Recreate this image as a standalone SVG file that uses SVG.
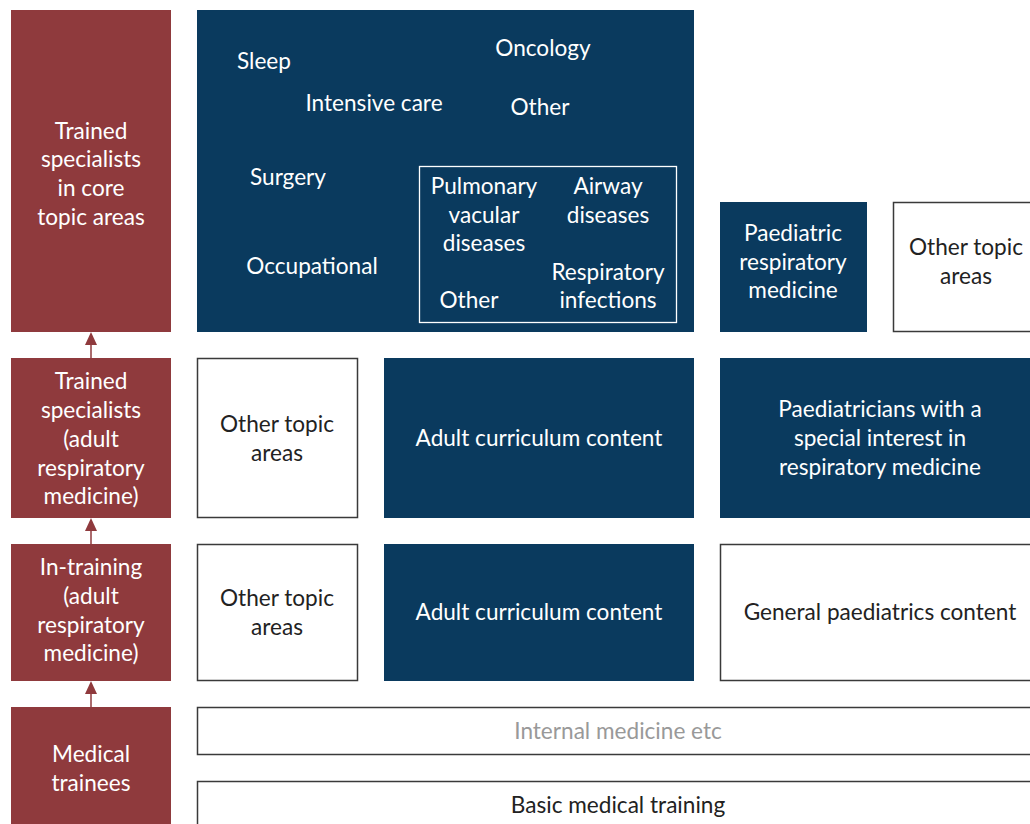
<svg xmlns="http://www.w3.org/2000/svg" width="1030" height="824" viewBox="0 0 1030 824">
<style>
.red{fill:#8f3a3d}
.blue{fill:#0a3a5e}
.wbox{fill:#fff;stroke:#3a3a3a;stroke-width:1.5}
text{font-family:Lato,"Open Sans","Liberation Sans",sans-serif;font-size:22.6px;text-anchor:middle;dominant-baseline:central}
.tw{fill:#fff}
.td{fill:#222}
.tg{fill:#999}
.arr{stroke:#8f3a3d;stroke-width:1.5}
.head{fill:#8f3a3d}
</style>
<rect width="1030" height="824" fill="#fff"/>

<g id="connectors">
<line class="arr" x1="91" y1="358" x2="91" y2="340"/>
<polygon class="head" points="91,332 85,345 97,345"/>
<line class="arr" x1="91" y1="544" x2="91" y2="526"/>
<polygon class="head" points="91,518 85,531 97,531"/>
<line class="arr" x1="91" y1="707" x2="91" y2="689"/>
<polygon class="head" points="91,681 85,694 97,694"/>
</g>

<g id="stage-core">
<rect class="red" x="11" y="10" width="160" height="322"/>
<text class="tw"><tspan x="91" y="130">Trained</tspan><tspan x="91" y="158">specialists</tspan><tspan x="91" y="187">in core</tspan><tspan x="91" y="216">topic areas</tspan></text>
</g>
<g id="stage-adult">
<rect class="red" x="11" y="358" width="160" height="160"/>
<text class="tw"><tspan x="91" y="380">Trained</tspan><tspan x="91" y="409">specialists</tspan><tspan x="91" y="438">(adult</tspan><tspan x="91" y="467">respiratory</tspan><tspan x="91" y="495">medicine)</tspan></text>
</g>
<g id="stage-training">
<rect class="red" x="11" y="544" width="160" height="137"/>
<text class="tw"><tspan x="91" y="566">In-training</tspan><tspan x="91" y="595">(adult</tspan><tspan x="91" y="624">respiratory</tspan><tspan x="91" y="652">medicine)</tspan></text>
</g>
<g id="stage-trainees">
<rect class="red" x="11" y="707" width="160" height="117"/>
<text class="tw"><tspan x="91" y="753">Medical</tspan><tspan x="91" y="782">trainees</tspan></text>
</g>

<g id="core-topics">
<rect class="blue" x="197" y="10" width="497" height="322"/>
<text class="tw" x="264" y="60">Sleep</text>
<text class="tw" x="374" y="102">Intensive care</text>
<text class="tw" x="543" y="47">Oncology</text>
<text class="tw" x="540" y="106">Other</text>
<text class="tw" x="288" y="176">Surgery</text>
<text class="tw" x="312" y="265">Occupational</text>
</g>
<g id="respiratory-core">
<rect x="419.5" y="166.5" width="257" height="156" fill="none" stroke="#fff" stroke-width="1.3"/>
<text class="tw"><tspan x="484" y="185">Pulmonary</tspan><tspan x="484" y="214">vacular</tspan><tspan x="484" y="242">diseases</tspan></text>
<text class="tw"><tspan x="608" y="185">Airway</tspan><tspan x="608" y="214">diseases</tspan></text>
<text class="tw"><tspan x="608" y="271">Respiratory</tspan><tspan x="608" y="299">infections</tspan></text>
<text class="tw" x="469" y="299">Other</text>
</g>
<g id="paed-resp">
<rect class="blue" x="720" y="202" width="147" height="130"/>
<text class="tw"><tspan x="793" y="232">Paediatric</tspan><tspan x="793" y="261">respiratory</tspan><tspan x="793" y="289">medicine</tspan></text>
</g>
<g id="other-top">
<rect class="wbox" x="893.5" y="202.5" width="140" height="129"/>
<text class="td"><tspan x="966" y="246">Other topic</tspan><tspan x="966" y="275">areas</tspan></text>
</g>

<g id="other-row2">
<rect class="wbox" x="197.5" y="358.5" width="160" height="159"/>
<text class="td"><tspan x="277" y="423">Other topic</tspan><tspan x="277" y="452">areas</tspan></text>
</g>
<g id="adult-row2">
<rect class="blue" x="384" y="358" width="310" height="160"/>
<text class="tw" x="539" y="437">Adult curriculum content</text>
</g>
<g id="paed-interest">
<rect class="blue" x="720" y="358" width="310" height="160"/>
<text class="tw"><tspan x="880" y="408">Paediatricians with a</tspan><tspan x="880" y="437">special interest in</tspan><tspan x="880" y="466">respiratory medicine</tspan></text>
</g>

<g id="other-row3">
<rect class="wbox" x="197.5" y="544.5" width="160" height="136"/>
<text class="td"><tspan x="277" y="597">Other topic</tspan><tspan x="277" y="626">areas</tspan></text>
</g>
<g id="adult-row3">
<rect class="blue" x="384" y="544" width="310" height="137"/>
<text class="tw" x="539" y="611">Adult curriculum content</text>
</g>
<g id="gen-paed">
<rect class="wbox" x="720.5" y="544.5" width="314" height="136"/>
<text class="td" x="880" y="611">General paediatrics content</text>
</g>

<g id="internal-med">
<rect class="wbox" x="197.5" y="707.5" width="837" height="47"/>
<text class="tg" x="618" y="730">Internal medicine etc</text>
</g>
<g id="basic-training">
<rect class="wbox" x="197.5" y="781.5" width="837" height="50"/>
<text class="td" x="618" y="804">Basic medical training</text>
</g>
</svg>
